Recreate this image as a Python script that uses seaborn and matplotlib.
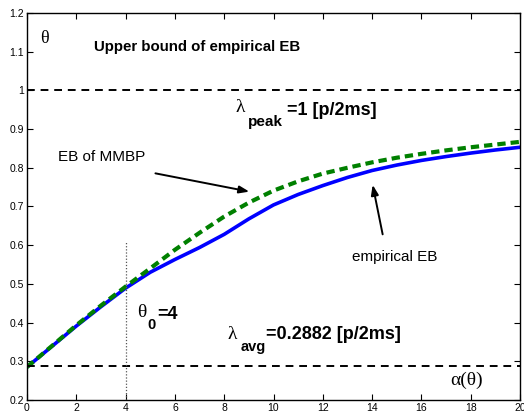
import matplotlib
matplotlib.use("Agg")
import matplotlib.pyplot as plt
import seaborn as sns
import pandas as pd

theta = [0, 1, 2, 3, 4, 5, 6, 7, 8, 9, 10, 11, 12, 13, 14, 15, 16, 17, 18, 19, 20]
empirical_eb = [0.285, 0.338, 0.391, 0.441, 0.489, 0.530, 0.563, 0.594, 0.628, 0.668,
                0.704, 0.731, 0.754, 0.775, 0.793, 0.807, 0.819, 0.829, 0.838, 0.846, 0.853]
mmbp_eb = [0.285, 0.339, 0.393, 0.444, 0.493, 0.540, 0.588, 0.632, 0.674, 0.710,
           0.741, 0.765, 0.785, 0.800, 0.814, 0.826, 0.836, 0.845, 0.853, 0.860, 0.867]
lambda_peak = 1.0
lambda_avg = 0.2882
theta0 = 4
x_ticks = [0, 2, 4, 6, 8, 10, 12, 14, 16, 18, 20]
y_ticks = [0.2, 0.3, 0.4, 0.5, 0.6, 0.7, 0.8, 0.9, 1.0, 1.1, 1.2]
y_ticklabels = ["0.2", "0.3", "0.4", "0.5", "0.6", "0.7", "0.8", "0.9", "1", "1.1", "1.2"]

sns.set_style("ticks")
plt.rcParams["font.family"] = ["Liberation Sans", "DejaVu Sans"]
plt.rcParams["text.color"] = "black"
plt.rcParams["xtick.color"] = "black"
plt.rcParams["ytick.color"] = "black"
SERIF = "Liberation Serif"

df = pd.DataFrame({"theta": theta, "empirical": empirical_eb, "mmbp": mmbp_eb})

fig = plt.figure(figsize=(5.24, 4.16), dpi=100)
ax = fig.add_axes([0.0515, 0.0385, 0.9409, 0.9303])

sns.lineplot(data=df, x="theta", y="empirical", ax=ax, color="#0000ff", lw=2.6)
sns.lineplot(data=df, x="theta", y="mmbp", ax=ax, color="#008000", lw=3.0,
             linestyle=(0, (2.0, 1.2)))
ax.axhline(lambda_peak, color="black", lw=1.4, linestyle=(0, (4, 3)))
ax.axhline(lambda_avg, color="black", lw=1.4, linestyle=(0, (4, 3)))
ax.plot([theta0, theta0], [0.2, 0.61], color="#555555", lw=0.9, linestyle=(0, (1, 1.5)))

ax.set_xlim(0, 20)
ax.set_ylim(0.2, 1.2)
ax.set_xticks(x_ticks)
ax.set_xticklabels([str(t) for t in x_ticks])
ax.set_yticks(y_ticks)
ax.set_yticklabels(y_ticklabels)
ax.set_xlabel("")
ax.set_ylabel("")
ax.tick_params(direction="in", length=4, width=0.8, labelsize=7.5, top=True, right=True,
               pad=2, colors="black")
for s in ax.spines.values():
    s.set_linewidth(1.0)
    s.set_color("black")

# theta label (top-left)
ax.text(0.53, 1.135, "θ", family=SERIF, fontsize=13, ha="left", va="center")
ax.text(2.7, 1.112, "Upper bound of empirical EB", fontsize=10.8, fontweight="bold",
        ha="left", va="center")

# lambda_peak
ax.text(8.45, 0.955, "λ", family=SERIF, fontsize=14, ha="left", va="center")
ax.text(8.95, 0.918, "peak", fontsize=11, fontweight="bold", ha="left", va="center")
ax.text(10.55, 0.949, "=1 [p/2ms]", fontsize=13, fontweight="bold", ha="left", va="center")

ax.text(1.25, 0.828, "EB of MMBP", fontsize=11, ha="left", va="center")
ax.text(13.2, 0.570, "empirical EB", fontsize=11, ha="left", va="center")

# theta_0 = 4
ax.text(4.45, 0.427, "θ", family=SERIF, fontsize=14, ha="left", va="center")
ax.text(4.9, 0.394, "0", fontsize=10.5, fontweight="bold", ha="left", va="center")
ax.text(5.3, 0.42, "=4", fontsize=13, fontweight="bold", ha="left", va="center")

# lambda_avg
ax.text(8.15, 0.368, "λ", family=SERIF, fontsize=14, ha="left", va="center")
ax.text(8.65, 0.337, "avg", fontsize=10.5, fontweight="bold", ha="left", va="center")
ax.text(9.7, 0.368, "=0.2882 [p/2ms]", fontsize=13, fontweight="bold", ha="left", va="center")

ax.text(17.15, 0.252, "α(θ)", family=SERIF, fontsize=14, ha="left", va="center")

arrow = dict(arrowstyle="-|>,head_length=0.6,head_width=0.22", color="black", lw=1.4)
ax.annotate("", xy=(9.13, 0.737), xytext=(5.1, 0.787), arrowprops=arrow)
ax.annotate("", xy=(14.0, 0.763), xytext=(14.45, 0.621), arrowprops=arrow)

fig.savefig("out.png", dpi=100)
